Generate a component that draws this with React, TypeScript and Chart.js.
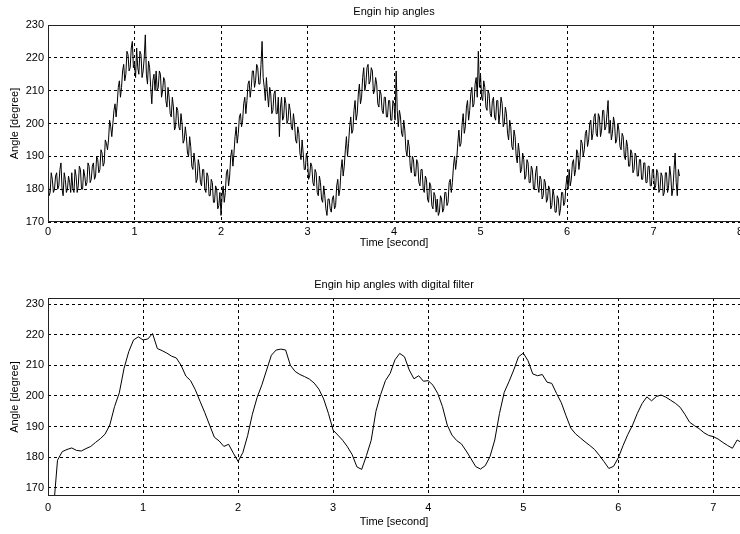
import React, { useEffect, useRef } from "react";
import { Chart, registerables } from "chart.js";

Chart.register(...registerables);

// Sampling steps (seconds)
const RAW_DT = 0.0125;
const FILT_DT = 0.05;

// Raw (unfiltered) hip angle samples, degrees, from t = 0 every 0.0125 s
const RAW_ANGLES = [
  184, 178, 179, 185, 183, 179, 180, 184, 185, 180, 181, 186, 188, 180, 178, 185, 183, 179, 180, 184,
  182, 179, 185, 180, 179, 186, 184, 179, 181, 187, 186, 180, 180, 186, 184, 181, 182, 188, 187, 182,
  183, 187, 188, 183, 184, 190, 189, 185, 186, 192, 191, 187, 188, 195, 194, 192, 195, 201, 199, 196,
  200, 204, 206, 202, 206, 211, 213, 208, 211, 216, 218, 213, 215, 222, 221, 216, 217, 223, 225, 217,
  218, 214, 223, 217, 215, 222, 221, 214, 216, 220, 227, 215, 212, 219, 217, 211, 206, 213, 215, 210,
  216, 210, 211, 216, 215, 208, 210, 214, 213, 207, 205, 211, 208, 203, 202, 208, 205, 198, 199, 205,
  204, 199, 198, 203, 200, 194, 195, 199, 196, 191, 190, 196, 193, 187, 186, 191, 188, 182, 183, 189,
  187, 182, 181, 186, 186, 180, 179, 185, 184, 178, 178, 183, 182, 176, 176, 181, 180, 174, 175, 179,
  172, 178, 181, 176, 179, 185, 186, 181, 184, 190, 192, 187, 191, 196, 199, 194, 197, 202, 203, 199,
  201, 206, 208, 203, 207, 212, 213, 208, 211, 216, 216, 211, 213, 218, 217, 212, 212, 218, 225, 214,
  211, 207, 214, 209, 205, 211, 209, 203, 204, 209, 210, 203, 203, 208, 196, 205, 208, 201, 202, 208,
  206, 200, 201, 206, 204, 199, 198, 203, 200, 195, 194, 199, 197, 191, 189, 195, 191, 186, 186, 191,
  189, 183, 184, 188, 187, 182, 181, 186, 185, 179, 178, 184, 182, 177, 176, 181, 178, 174, 172, 177,
  177, 174, 173, 177, 178, 174, 175, 181, 183, 178, 180, 186, 189, 184, 187, 192, 196, 190, 194, 199,
  202, 197, 198, 204, 207, 201, 203, 209, 212, 206, 208, 214, 217, 210, 212, 217, 218, 212, 213, 217,
  216, 209, 210, 214, 212, 206, 205, 210, 209, 204, 203, 208, 208, 202, 202, 207, 207, 201, 201, 207,
  206, 201, 216, 204, 199, 204, 202, 197, 196, 201, 198, 192, 190, 195, 193, 187, 185, 190, 189, 184,
  184, 189, 188, 182, 181, 186, 186, 180, 179, 184, 183, 177, 176, 182, 181, 175, 174, 179, 178, 173,
  177, 172, 173, 178, 177, 173, 174, 179, 179, 175, 176, 182, 183, 179, 182, 187, 190, 186, 189, 194,
  198, 193, 194, 200, 203, 197, 199, 205, 207, 201, 204, 209, 211, 205, 206, 212, 214, 208, 222, 211,
  215, 208, 207, 213, 211, 205, 204, 210, 209, 203, 202, 207, 208, 202, 201, 207, 207, 200, 203, 208,
  206, 199, 200, 205, 203, 197, 195, 201, 199, 193, 192, 198, 196, 190, 188, 194, 191, 185, 186, 191,
  189, 183, 184, 189, 188, 182, 182, 187, 186, 180, 180, 185, 187, 181, 179, 184, 183, 177, 178, 183,
  182, 176, 177, 181, 180, 174, 175, 180, 178, 173, 173, 178, 177, 172, 174, 179, 179, 175, 176, 181,
  184, 180, 186, 181, 183, 188, 189, 184, 186, 192, 191, 186, 189, 195, 194, 190, 192, 197, 198, 193,
  195, 200, 201, 195, 197, 202, 203, 197, 196, 203, 202, 196, 198, 204, 204, 198, 199, 203, 207, 197,
  201, 195, 197, 202, 200, 194, 195, 200, 198, 193, 192, 197, 196, 190, 189, 195, 193, 187, 187, 192,
  191, 185, 186, 191, 190, 184, 184, 189, 189, 183, 183, 188, 188, 182, 182, 187, 187, 181, 181, 186,
  186, 180, 181, 186, 185, 179, 180, 185, 184, 178, 179, 185, 185, 179, 181, 187, 184, 178, 180, 186,
  191, 182, 178, 186, 184,
];

// Filtered hip angle samples, degrees, from t = 0 every 0.05 s
const FILTERED_ANGLES = [
  150, 160, 179, 181.8, 182.5, 183, 182.2, 182, 182.8, 183.5,
  184.8, 186, 187.5, 190.5, 196.5, 201, 209, 214.5, 218.3, 219.3,
  218.3, 218.6, 220.4, 215.5, 214.8, 214, 213, 212.4, 210, 206.5,
  205, 202, 198.2, 194.5, 190.5, 186.5, 185.3, 183.5, 184.2, 181.3,
  178.6, 181.5, 187, 194, 199.5, 203.6, 208.5, 213.3, 215, 215.3,
  215, 210, 208, 207, 206.3, 205.5, 204.2, 202.2, 199, 194.3,
  188.8, 187.2, 185.5, 183.4, 180.8, 176.8, 176, 180.5, 185.5, 195,
  200.5, 205, 207.4, 211.8, 213.9, 212.8, 208.5, 205.6, 206.6, 204.8,
  205, 203.5, 200.8, 196.5, 190.5, 187.2, 185.4, 184.3, 182, 179.5,
  176.9, 176.1, 177.2, 180.2, 185.6, 194.3, 201.2, 204.7, 208.5, 212.8,
  214, 211.5, 207.2, 206.6, 207, 204.5, 204.1, 200.8, 197.8, 193.5,
  189.5, 187.6, 186.3, 185, 183.8, 182.5, 180.6, 178.5, 176.3, 177,
  179.8, 183.8, 187.4, 190.5, 194.3, 197.5, 199.7, 198.4, 199.8, 200.3,
  199.6, 198.6, 197.6, 196.3, 194, 191.4, 190.3, 189.3, 188, 187.1,
  186.7, 185.9, 184.8, 183.8, 182.9, 185.6, 184.7,
];

const Y_TICKS = [170, 180, 190, 200, 210, 220, 230];
const X_TICKS_TOP = [0, 1, 2, 3, 4, 5, 6, 7, 8];
const X_TICKS_BOTTOM = [0, 1, 2, 3, 4, 5, 6, 7];

const TITLE_TOP = "Engin hip angles";
const TITLE_BOTTOM = "Engin hip angles with digital filter";
const X_TITLE = "Time [second]";
const Y_TITLE = "Angle [degree]";

const FONT_FAMILY = '"Liberation Sans", Arial, sans-serif';

type PanelCfg = {
  values: number[];
  dt: number;
  xMin: number;
  xMax: number;
  yMin: number;
  yMax: number;
  xTicks: number[];
  yTicks: number[];
  title: string;
  padTop: number;
  xAxisHeight: number;
  titleY: number;
  xTitleOffset: number;
  xTickPad: number;
};

function makeChart(canvas: HTMLCanvasElement, cfg: PanelCfg) {
  const points = cfg.values.map((v, i) => ({ x: i * cfg.dt, y: v }));
  const textPlugin = {
    id: "matlabText",
    afterDraw(chart: any) {
      const { ctx, chartArea } = chart;
      const { left, right, top, bottom } = chartArea;
      ctx.save();
      ctx.strokeStyle = "#222";
      ctx.lineWidth = 1;
      ctx.setLineDash([]);
      ctx.strokeRect(Math.round(left) + 0.5, Math.round(top) + 0.5, Math.round(right - left), Math.round(bottom - top) - 1);
      ctx.fillStyle = "#000";
      ctx.font = `11px ${FONT_FAMILY}`;
      ctx.textAlign = "center";
      ctx.textBaseline = "middle";
      ctx.fillText(cfg.title, (left + right) / 2, cfg.titleY);
      ctx.fillText(X_TITLE, (left + right) / 2, bottom + cfg.xTitleOffset);
      ctx.translate(15, (top + bottom) / 2);
      ctx.rotate(-Math.PI / 2);
      ctx.fillText(Y_TITLE, 0, 0);
      ctx.restore();
    },
  };
  return new Chart(canvas, {
    type: "line",
    data: {
      datasets: [
        {
          data: points,
          borderColor: "#000",
          borderWidth: 1,
          pointRadius: 0,
          tension: 0,
          fill: false,
        },
      ],
    },
    options: {
      animation: false,
      responsive: false,
      devicePixelRatio: 1,
      parsing: false as any,
      normalized: true,
      layout: { padding: { top: cfg.padTop, left: 0, right: 0, bottom: 0 } },
      plugins: {
        legend: { display: false },
        title: { display: false },
        tooltip: { enabled: false },
      },
      scales: {
        x: {
          type: "linear",
          min: cfg.xMin,
          max: cfg.xMax,
          afterBuildTicks: (scale: any) => {
            scale.ticks = cfg.xTicks.map((v) => ({ value: v }));
          },
          afterFit: (scale: any) => {
            scale.height = cfg.xAxisHeight;
            scale.paddingLeft = 0;
            scale.paddingRight = 0;
          },
          grid: {
            color: "#000",
            lineWidth: 1,
            drawTicks: false,
          },
          border: { display: false, dash: [3, 3] },
          ticks: {
            color: "#000",
            font: { size: 11, family: FONT_FAMILY },
            padding: cfg.xTickPad,
            maxRotation: 0,
            autoSkip: false,
            callback: (v: any) => String(v),
          },
        },
        y: {
          type: "linear",
          min: cfg.yMin,
          max: cfg.yMax,
          afterBuildTicks: (scale: any) => {
            scale.ticks = cfg.yTicks.map((v) => ({ value: v }));
          },
          afterFit: (scale: any) => {
            scale.width = 48;
            scale.paddingTop = 0;
            scale.paddingBottom = 0;
          },
          grid: {
            color: "#000",
            lineWidth: 1,
            drawTicks: false,
          },
          border: { display: false, dash: [3, 3] },
          ticks: {
            color: "#000",
            font: { size: 11, family: FONT_FAMILY },
            padding: 4,
            autoSkip: false,
            callback: (v: any) => String(v),
          },
        },
      },
    },
    plugins: [textPlugin],
  } as any);
}

export default function App() {
  const topRef = useRef<HTMLCanvasElement>(null);
  const botRef = useRef<HTMLCanvasElement>(null);

  useEffect(() => {
    const c1 = makeChart(topRef.current!, {
      values: RAW_ANGLES,
      dt: RAW_DT,
      xMin: 0,
      xMax: 8,
      yMin: 170,
      yMax: 230,
      xTicks: X_TICKS_TOP,
      yTicks: Y_TICKS,
      title: TITLE_TOP,
      padTop: 25,
      xAxisHeight: 38,
      titleY: 12,
      xTitleOffset: 21,
      xTickPad: 3,
    });
    const c2 = makeChart(botRef.current!, {
      values: FILTERED_ANGLES,
      dt: FILT_DT,
      xMin: 0,
      xMax: 7.28,
      yMin: 167.3,
      yMax: 232,
      xTicks: X_TICKS_BOTTOM,
      yTicks: Y_TICKS,
      title: TITLE_BOTTOM,
      padTop: 38,
      xAxisHeight: 38,
      titleY: 25,
      xTitleOffset: 26,
      xTickPad: 5,
    });
    return () => {
      c1.destroy();
      c2.destroy();
    };
  }, []);

  return (
    <div style={{ position: "absolute", left: 0, top: 0, width: 740, height: 534, background: "#fff", overflow: "hidden" }}>
      <canvas ref={topRef} width={740} height={260} style={{ display: "block", position: "absolute", left: 0, top: 0 }} />
      <canvas ref={botRef} width={740} height={274} style={{ display: "block", position: "absolute", left: 0, top: 260 }} />
    </div>
  );
}
